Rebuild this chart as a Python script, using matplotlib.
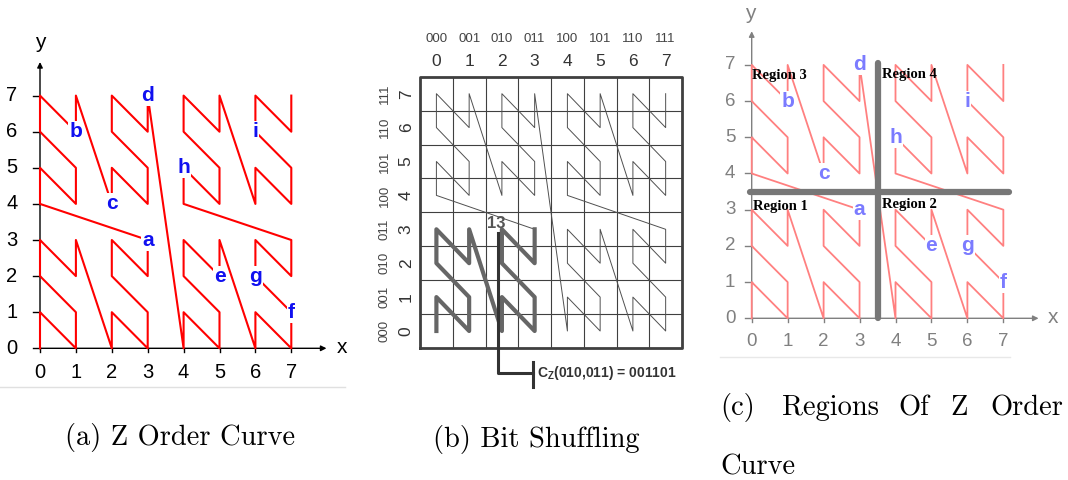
import matplotlib
matplotlib.use('Agg')
import matplotlib.pyplot as plt

plt.rcParams['mathtext.fontset'] = 'custom'
plt.rcParams['mathtext.bf'] = 'Liberation Sans:bold'
plt.rcParams['mathtext.rm'] = 'Liberation Sans'

W, H = 1068, 480

# Z order visiting sequence on the 8x8 grid
z_x = [0, 0, 1, 1, 0, 0, 1, 1, 2, 2, 3, 3, 2, 2, 3, 3,
       0, 0, 1, 1, 0, 0, 1, 1, 2, 2, 3, 3, 2, 2, 3, 3,
       4, 4, 5, 5, 4, 4, 5, 5, 6, 6, 7, 7, 6, 6, 7, 7,
       4, 4, 5, 5, 4, 4, 5, 5, 6, 6, 7, 7, 6, 6, 7, 7]
z_y = [0, 1, 0, 1, 2, 3, 2, 3, 0, 1, 0, 1, 2, 3, 2, 3,
       4, 5, 4, 5, 6, 7, 6, 7, 4, 5, 4, 5, 6, 7, 6, 7,
       0, 1, 0, 1, 2, 3, 2, 3, 0, 1, 0, 1, 2, 3, 2, 3,
       4, 5, 4, 5, 6, 7, 6, 7, 4, 5, 4, 5, 6, 7, 6, 7]

# named points
point_names = ['a', 'b', 'c', 'd', 'e', 'f', 'g', 'h', 'i']
point_x = [3, 1, 2, 3, 5, 7, 6, 4, 6]
point_y = [3, 6, 4, 7, 2, 1, 2, 5, 6]

ticks = [0, 1, 2, 3, 4, 5, 6, 7]
bits = ['000', '001', '010', '011', '100', '101', '110', '111']

# regions of panel (c)
split = 3.5
region_names = ['Region 1', 'Region 2', 'Region 3', 'Region 4']
region_x = [0.03, 3.62, 0.0, 3.62]
region_y = [3.1, 3.15, 6.7, 6.74]

# panel (b): first 16 cells drawn bold, cell 13 annotated
n_bold = 16
cell_label = '13'
cell_x, cell_y = 2, 3
cell_code = r'C$_{\mathbf{Z}}$(010,011) = 001101'

fig = plt.figure(figsize=(W / 100, H / 100), dpi=100)


def put_axes(x0, ux, y0, uy, xlim, ylim):
    # place an axes so that data unit 0 lands on pixel (x0, y0)
    left = x0 + xlim[0] * ux
    right = x0 + xlim[1] * ux
    top = y0 - ylim[1] * uy
    bottom = y0 - ylim[0] * uy
    ax = fig.add_axes([left / W, 1 - bottom / H, (right - left) / W, (bottom - top) / H])
    ax.set_xlim(xlim)
    ax.set_ylim(ylim)
    ax.axis('off')
    ax.patch.set_alpha(0)
    return ax


def z_panel(ax, line_color, lw, axis_color, tick_color, label_color, xt_y, yt_x, xlab, ylab, fs):
    ax.annotate('', xy=(7.98, 0), xytext=(0, 0),
                arrowprops=dict(arrowstyle='-|>', color=axis_color, lw=1, mutation_scale=8,
                                shrinkA=0, shrinkB=0))
    ax.annotate('', xy=(0, 7.93), xytext=(0, 0),
                arrowprops=dict(arrowstyle='-|>', color=axis_color, lw=1, mutation_scale=8,
                                shrinkA=0, shrinkB=0))
    for t in ticks:
        ax.plot([-0.2, 0], [t, t], color=axis_color, lw=1)
        ax.plot([t, t], [0, -0.1], color=axis_color, lw=1)
        ax.text(t, xt_y, str(t), ha='center', va='center', fontsize=fs,
                color=tick_color, family='Liberation Sans')
        ax.text(yt_x, t, str(t), ha='center', va='center', fontsize=fs,
                color=tick_color, family='Liberation Sans')
    ax.text(xlab[0], xlab[1], 'x', ha='center', va='center', fontsize=15,
            color=tick_color, family='Liberation Sans')
    ax.text(ylab[0], ylab[1], 'y', ha='center', va='center', fontsize=15,
            color=tick_color, family='Liberation Sans')
    ax.plot(z_x, z_y, color=line_color, lw=lw, zorder=3)
    for name, px, py in zip(point_names, point_x, point_y):
        ax.text(px, py, name, ha='center', va='center', fontsize=15, fontweight='bold',
                color=label_color, family='Liberation Sans', zorder=5,
                bbox=dict(boxstyle='square,pad=0.05', fc='white', ec='none'))


# (a) Z order curve
ax_a = put_axes(40, 35.9, 348.3, 36.1, (-1.1, 8.6), (-1.4, 8.9))
z_panel(ax_a, '#ff0000', 1.5, 'black', 'black', '#1010f0',
        -0.68, -0.78, (8.41, 0.02), (0.0, 8.46), 14.5)

# (b) bit shuffling
ax_b = put_axes(436.4, 32.75, 331.0, 33.9, (-2.0, 8.3), (-2.0, 9.2))
for k in range(9):
    ax_b.plot([k - 0.5, k - 0.5], [-0.5, 7.5], color='#404040', lw=0.8)
    ax_b.plot([-0.5, 7.5], [k - 0.5, k - 0.5], color='#404040', lw=0.8)
ax_b.plot([-0.5, 7.5, 7.5, -0.5, -0.5], [-0.5, -0.5, 7.5, 7.5, -0.5],
          color='#404040', lw=2)
ax_b.plot(z_x[n_bold - 1:], z_y[n_bold - 1:], color='#505050', lw=0.7, zorder=3)
ax_b.plot(z_x[:n_bold], z_y[:n_bold], color='#666666', lw=3, zorder=4)
for t, b in zip(ticks, bits):
    ax_b.text(t, 7.95, str(t), ha='center', va='center', fontsize=12.5, color='#333333',
              family='Liberation Sans')
    ax_b.text(t, 8.62, b, ha='center', va='center', fontsize=9.5, color='#444444',
              family='Liberation Sans')
    ax_b.text(-0.92, t, str(t), ha='center', va='center', fontsize=12.5, color='#333333',
              family='Liberation Sans', rotation=90)
    ax_b.text(-1.57, t, b, ha='center', va='center', fontsize=9.5, color='#444444',
              family='Liberation Sans', rotation=90)
ax_b.text(cell_x - 0.16, cell_y + 0.18, cell_label, ha='center', va='center', fontsize=12,
          fontweight='bold', color='#555555', family='Liberation Sans', zorder=6)
ax_b.plot([cell_x - 0.13, cell_x - 0.13, cell_x + 0.95], [cell_y - 0.11, -1.24, -1.24],
          color='#333333', lw=2.2, zorder=6, clip_on=False)
ax_b.plot([cell_x + 0.95, cell_x + 0.95], [-0.91, -1.65], color='#333333', lw=2.2,
          clip_on=False)
ax_b.text(cell_x + 1.07, -1.24, cell_code, ha='left', va='center', fontsize=10,
          fontweight='bold', color='#333333', family='Liberation Sans')

# (c) regions of Z order curve
ax_c = put_axes(751.7, 35.95, 318.3, 36.2, (-0.9, 8.7), (-1.1, 8.9))
z_panel(ax_c, '#ff8080', 1.3, '#808080', '#808080', '#7b7bff',
        -0.63, -0.6, (8.38, 0.02), (-0.05, 8.43), 13.5)
ax_c.plot([split, split], [0, 7.05], color='#777777', lw=4.5, zorder=6,
          solid_capstyle='round')
ax_c.plot([-0.05, 7.17], [split, split], color='#777777', lw=4.5, zorder=6,
          solid_capstyle='round')
for name, rx, ry in zip(region_names, region_x, region_y):
    ax_c.text(rx, ry, name, ha='left', va='center', fontsize=10.5, fontweight='bold',
              family='Liberation Serif', color='black', zorder=7)

# separators under panels
fig.add_artist(plt.Line2D([0 / W, 345 / W], [1 - 387 / H, 1 - 387 / H], color='#e0e0e0', lw=1))
fig.add_artist(plt.Line2D([720 / W, 1010 / W], [1 - 357 / H, 1 - 357 / H], color='#e8e8e8', lw=1))

# captions
cap = dict(family='cmr10', fontsize=20.5, va='center', color='black')
fig.text(180 / W, 1 - 438 / H, '(a) Z Order Curve', ha='center', **cap)
fig.text(536 / W, 1 - 440 / H, '(b) Bit Shuffling', ha='center', **cap)
fig.text(720 / W, 1 - 408 / H, '(c)', ha='left', **cap)
fig.text(781.7 / W, 1 - 408 / H, 'Regions', ha='left', **cap)
fig.text(898 / W, 1 - 408 / H, 'Of', ha='left', **cap)
fig.text(950 / W, 1 - 408 / H, 'Z', ha='left', **cap)
fig.text(1063 / W, 1 - 408 / H, 'Order', ha='right', **cap)
fig.text(720 / W, 1 - 467 / H, 'Curve', ha='left', **cap)

fig.savefig('out.png', dpi=100)
